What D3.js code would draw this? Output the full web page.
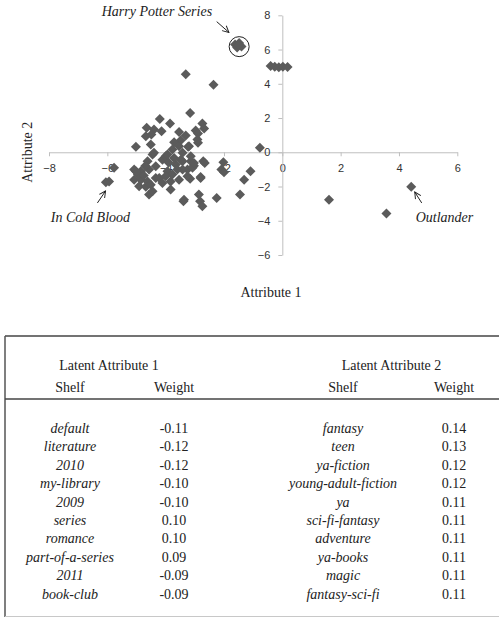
<!DOCTYPE html>
<html>
<head>
<meta charset="utf-8">
<script src="https://cdn.jsdelivr.net/npm/d3@7"></script>
<style>
  body { margin: 0; background: #fff; }
  svg { display: block; }
  .axis path, .axis line { stroke: #bfbfbf; }
  .axis text { font-family: "Liberation Sans", Arial, sans-serif; font-size: 11px; fill: #333; }
  .serif { font-family: "Liberation Serif", "Times New Roman", serif; fill: #222; }
</style>
</head>
<body>
<div id="chart"></div>
<script>
// book positions on the two latent attributes
var attr1 = [-1.62, -1.48, -1.55, -1.40, -1.50,
  -0.40, -0.26, -0.12, 0.02, 0.18,
  -0.77, -1.45, -1.31, -1.09, 1.60, 3.57, 4.42,
  -3.31, -2.36, -3.16, -2.74, -2.68, -2.97, -3.31, -2.89, -2.89, -3.23, -3.48,
  -3.42, -3.14, -2.71, -3.03, -3.25, -2.02, -2.09, -2.00, -3.16, -2.80, -3.39, -2.86, -2.82, -2.74, -2.25,
  -4.20, -3.85, -4.65, -4.40, -4.14, -4.49, -3.54, -4.68,
  -4.51, -5.02, -3.71, -3.54, -3.20, -2.91,
  -5.77, -5.94, -6.05,
  -4.45, -4.62, -5.08, -4.85, -4.57, -4.34, -5.08, -4.85, -4.62, -4.34, -4.91, -4.68, -4.51, -4.95, -4.75, -4.70,
  -4.11, -4.00, -3.94, -4.22, -4.11, -3.83, -3.77, -3.65, -3.71, -3.48, -3.42, -3.54, -3.25, -3.08, -3.03, -3.42, -3.77, -3.14, -3.90, -3.60, -4.00,
  -4.57, -4.45, -3.37, -3.83, -2.66, -2.80, -3.94, -4.40, -5.02];
var attr2 = [6.30, 6.38, 6.12, 6.18, 6.25,
  5.04, 5.00, 4.96, 5.00, 4.98,
  0.26, -2.47, -1.60, -1.11, -2.77, -3.58, -2.02,
  4.56, 3.94, 2.30, 1.68, 1.39, 1.27, 0.98, 1.09, 0.55, 0.32, 0.70,
  -0.53, -0.53, -0.53, -0.78, -1.01, -0.58, -1.01, -1.17, -1.54, -1.44, -2.86, -2.47, -2.86, -3.16, -2.67,
  1.95, 1.68, 1.43, 1.33, 1.23, 1.04, 1.19, 0.94,
  0.45, 0.32, 0.58, 0.35, 0.35, 0.74,
  -0.91, -1.70, -1.75,
  -0.13, -0.53, -1.01, -1.11, -1.01, -0.82, -1.60, -1.60, -1.70, -1.50, -1.99, -2.02, -1.89, -1.30, -1.35, -0.80,
  -0.43, -0.23, -1.11, -1.50, -1.79, -1.70, -1.30, -0.72, -0.33, -0.43, -1.01, -1.60, -1.40, -0.91, -0.62, -0.03, 0.16, -0.23, -0.60, -1.00, -1.40,
  -2.47, -2.28, -2.77, -2.18, -0.62, -1.50, -0.13, -0.03, -1.11];

var xTicks = [-8, -6, -4, -2, 0, 2, 4, 6],
    yTicks = [-6, -4, -2, 0, 2, 4, 6, 8];

// callouts: label, text anchor point, arrow tail, arrow tip (data units)
var noteLabels = ['Harry Potter Series', 'In Cold Blood', 'Outlander'],
    noteText = [[-4.3, 7.96], [-6.58, -4.07], [5.56, -4.07]],
    noteTail = [[-2.25, 7.63], [-6.34, -2.96], [4.78, -2.96]],
    noteTip = [[-1.83, 7.0], [-6.06, -2.26], [4.54, -2.32]];
var hpCircle = [-1.48, 6.17];

// table
var headers = ['Latent Attribute 1', 'Latent Attribute 2'];
var shelves1 = ['default', 'literature', '2010', 'my-library', '2009', 'series', 'romance', 'part-of-a-series', '2011', 'book-club'],
    weights1 = ['-0.11', '-0.12', '-0.12', '-0.10', '-0.10', '0.10', '0.10', '0.09', '-0.09', '-0.09'],
    shelves2 = ['fantasy', 'teen', 'ya-fiction', 'young-adult-fiction', 'ya', 'sci-fi-fantasy', 'adventure', 'ya-books', 'magic', 'fantasy-sci-fi'],
    weights2 = ['0.14', '0.13', '0.12', '0.12', '0.11', '0.11', '0.11', '0.11', '0.11', '0.11'];

var width = 499, height = 619;

var svg = d3.select('#chart').append('svg')
    .attr('width', width)
    .attr('height', height);

var x = d3.scaleLinear().domain([-8, 6]).range([49, 457.3]),
    y = d3.scaleLinear().domain([-6, 8]).range([255, 15.3]);

svg.append('g')
    .attr('class', 'axis')
    .attr('transform', 'translate(0,' + y(0) + ')')
    .call(d3.axisBottom(x).tickValues(xTicks).tickSize(4).tickSizeOuter(0).tickPadding(8));

svg.append('g')
    .attr('class', 'axis')
    .attr('transform', 'translate(' + x(0) + ',0)')
    .call(d3.axisLeft(y).tickValues(yTicks).tickSize(4).tickSizeOuter(0).tickPadding(8));

var points = attr1.map(function(d, i) { return {a: d, b: attr2[i]}; });

svg.append('g').selectAll('path')
    .data(points)
    .enter().append('path')
      .attr('d', d3.symbol(d3.symbolSquare, 50))
      .attr('transform', function(d) { return 'translate(' + x(d.a) + ',' + y(d.b) + ') rotate(45)'; })
      .attr('fill', '#5b5b5b');

// harry potter ring
svg.append('circle')
    .attr('cx', x(hpCircle[0]))
    .attr('cy', y(hpCircle[1]))
    .attr('r', 10)
    .attr('fill', 'none')
    .attr('stroke', '#222')
    .attr('stroke-width', 1);

svg.append('defs').append('marker')
    .attr('id', 'arrow')
    .attr('viewBox', '0 0 10 10')
    .attr('refX', 9).attr('refY', 5)
    .attr('markerWidth', 8).attr('markerHeight', 8)
    .attr('markerUnits', 'userSpaceOnUse')
    .attr('orient', 'auto')
  .append('path')
    .attr('d', 'M1,1 L9,5 L1,9')
    .attr('fill', 'none')
    .attr('stroke', '#222')
    .attr('stroke-width', 1.2);

var notes = svg.append('g').selectAll('g')
    .data(noteLabels)
    .enter().append('g');

notes.append('line')
    .attr('x1', function(d, i) { return x(noteTail[i][0]); })
    .attr('y1', function(d, i) { return y(noteTail[i][1]); })
    .attr('x2', function(d, i) { return x(noteTip[i][0]); })
    .attr('y2', function(d, i) { return y(noteTip[i][1]); })
    .attr('stroke', '#222')
    .attr('stroke-width', 1)
    .attr('marker-end', 'url(#arrow)');

notes.append('text')
    .attr('class', 'serif')
    .attr('x', function(d, i) { return x(noteText[i][0]); })
    .attr('y', function(d, i) { return y(noteText[i][1]); })
    .attr('text-anchor', 'middle')
    .style('font-size', '14px')
    .style('font-style', 'italic')
    .text(function(d) { return d; });

svg.append('text')
    .attr('class', 'serif')
    .attr('x', 271).attr('y', 297)
    .attr('text-anchor', 'middle')
    .style('font-size', '14px')
    .text('Attribute 1');

svg.append('text')
    .attr('class', 'serif')
    .attr('transform', 'translate(32,' + y(0) + ') rotate(-90)')
    .attr('text-anchor', 'middle')
    .style('font-size', '14px')
    .text('Attribute 2');

// ---- table below the plot ----
var table = svg.append('g');

table.append('line').attr('x1', 5).attr('x2', 499).attr('y1', 336).attr('y2', 336)
    .attr('stroke', '#444').attr('stroke-width', 1.5);
table.append('line').attr('x1', 5).attr('x2', 5).attr('y1', 336).attr('y2', 617)
    .attr('stroke', '#555').attr('stroke-width', 1.5);
table.append('line').attr('x1', 5).attr('x2', 499).attr('y1', 616.5).attr('y2', 616.5)
    .attr('stroke', '#c8c8c8').attr('stroke-width', 1);
table.append('line').attr('x1', 5).attr('x2', 499).attr('y1', 399).attr('y2', 399)
    .attr('stroke', '#444').attr('stroke-width', 1.5);

var colCenters = [[70, 174], [343, 454]],
    headCenters = [109, 391.5];

table.selectAll('.head')
    .data(headers)
    .enter().append('text')
      .attr('class', 'serif head')
      .attr('x', function(d, i) { return headCenters[i]; })
      .attr('y', 369.5)
      .attr('text-anchor', 'middle')
      .style('font-size', '14px')
      .text(function(d) { return d; });

colCenters.forEach(function(c) {
  table.append('text').attr('class', 'serif').attr('x', c[0]).attr('y', 391.5)
      .attr('text-anchor', 'middle').style('font-size', '14px').text('Shelf');
  table.append('text').attr('class', 'serif').attr('x', c[1]).attr('y', 391.5)
      .attr('text-anchor', 'middle').style('font-size', '14px').text('Weight');
});

var rowY = d3.scaleLinear().domain([0, 9]).range([433, 598.6]);

[[shelves1, weights1], [shelves2, weights2]].forEach(function(col, k) {
  table.append('g').selectAll('text')
      .data(col[0])
      .enter().append('text')
        .attr('class', 'serif')
        .attr('x', colCenters[k][0])
        .attr('y', function(d, i) { return rowY(i); })
        .attr('text-anchor', 'middle')
        .style('font-size', '14px')
        .style('font-style', 'italic')
        .text(function(d) { return d; });

  table.append('g').selectAll('text')
      .data(col[1])
      .enter().append('text')
        .attr('class', 'serif')
        .attr('x', colCenters[k][1])
        .attr('y', function(d, i) { return rowY(i); })
        .attr('text-anchor', 'middle')
        .style('font-size', '14px')
        .text(function(d) { return d; });
});
</script>
</body>
</html>
